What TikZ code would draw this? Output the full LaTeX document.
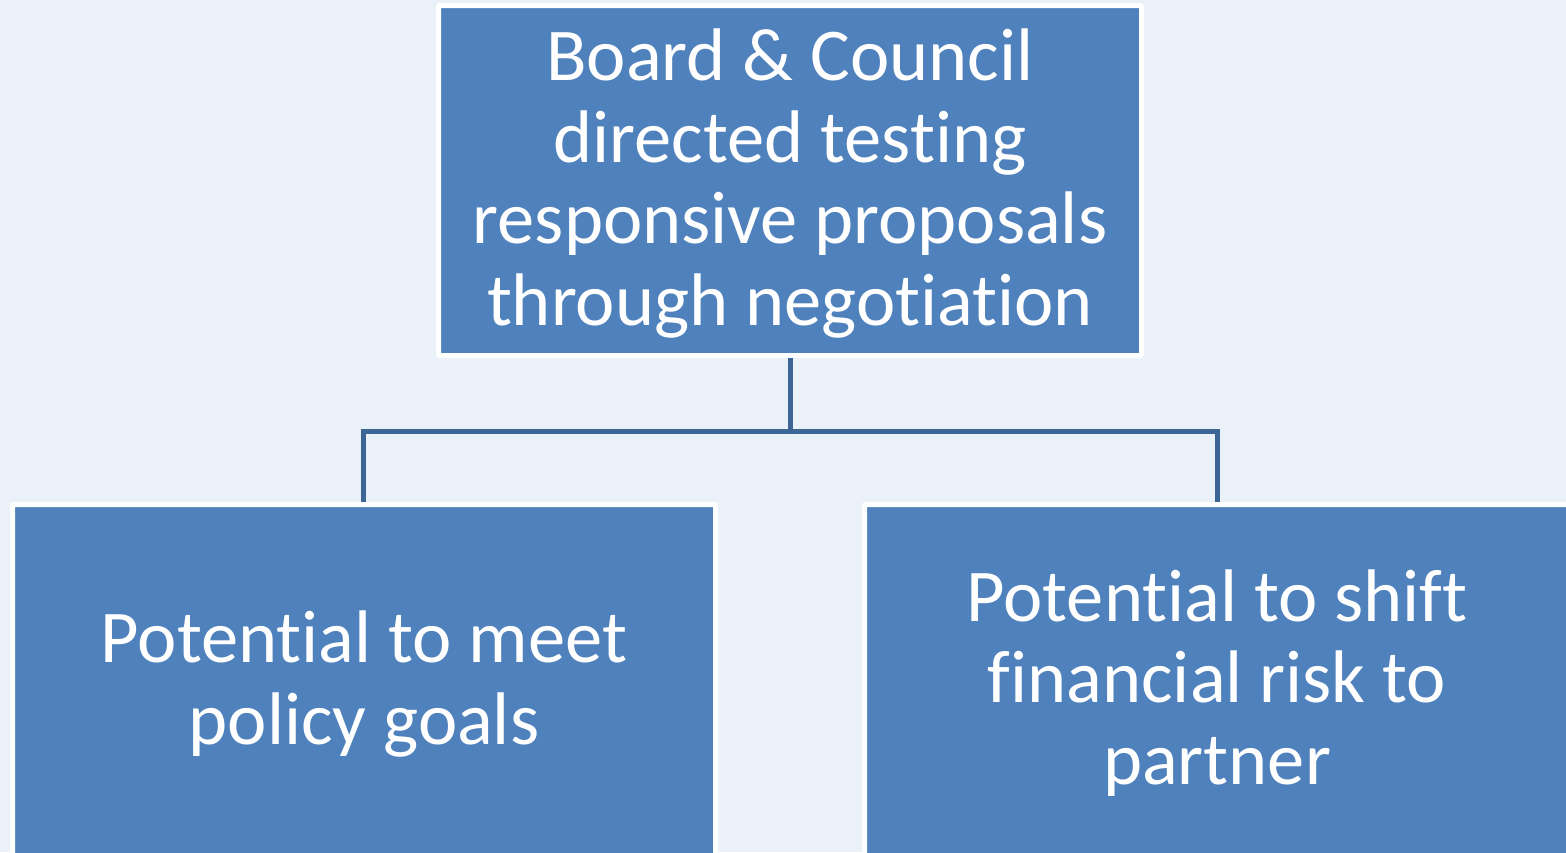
\documentclass[tikz,border=0pt]{standalone}
\usepackage{fontspec}
\setmainfont{Carlito}[Ligatures=NoCommon]
\definecolor{bg}{HTML}{EAF1F9}
\definecolor{boxblue}{HTML}{4F81BD}
\definecolor{linkblue}{HTML}{3C6696}
\begin{document}
\begin{tikzpicture}[x=1pt,y=-1pt,
  box/.style={draw=white,line width=5pt,fill=boxblue,rectangle,inner sep=0pt,rounded corners=1pt},
  txt/.style={text=white,align=center,font=\fontsize{74.5}{81.5}\selectfont,anchor=base,inner sep=0pt},
  link/.style={draw=linkblue,line width=5pt}]
\useasboundingbox (0,0) rectangle (1566,852);
\clip (0,0) rectangle (1566,852);
\fill[bg] (0,0) rectangle (1566,852);
\node[box,minimum width=703pt,minimum height=350pt] (top) at (790,180.5) {};
\node[box,minimum width=703pt,minimum height=420pt] (left) at (364,714.5) {};
\node[box,minimum width=740pt,minimum height=420pt] (right) at (1234.5,714.5) {};
\coordinate (mid) at (790,431);
\draw[link] (top.south) -- (mid);
\draw[link] (mid) -| (363,502) coordinate (lj);
\draw[link] (mid) -| (1217,502) coordinate (rj);
\node[txt] (toptext) at (790,325) {Board \& Council\\directed testing\\responsive proposals\\through negotiation};
\node[txt] (lefttext) at (364,744) {Potential to meet\\policy goals};
\node[txt] (righttext) at (1217,784) {Potential to shift\\financial risk to\\partner};
\end{tikzpicture}
\end{document}
